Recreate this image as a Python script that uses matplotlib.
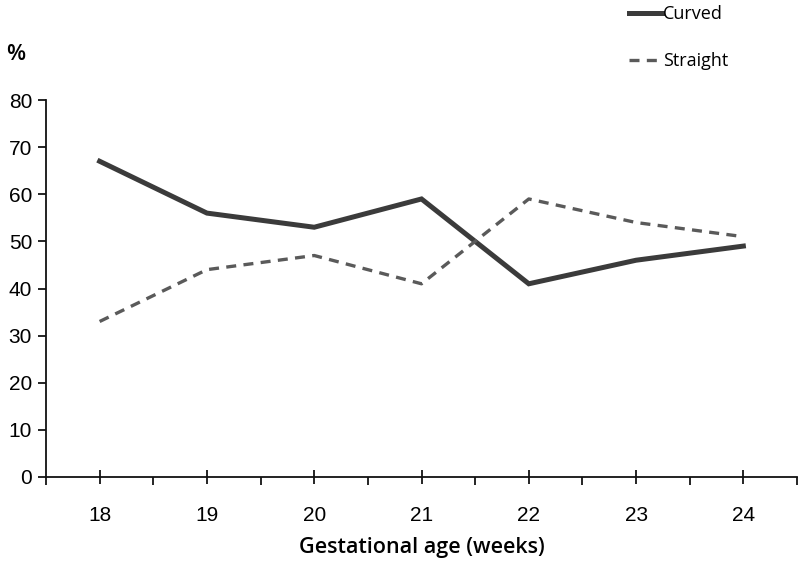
import matplotlib
matplotlib.use("Agg")
import matplotlib.pyplot as plt
from matplotlib.ticker import FixedLocator

weeks = ["18", "19", "20", "21", "22", "23", "24"]
curved = [67, 56, 53, 59, 41, 46, 49]
straight = [33, 44, 47, 41, 59, 54, 51]
y_ticks = [0, 10, 20, 30, 40, 50, 60, 70, 80]

fig = plt.figure(figsize=(8, 5.61), dpi=100)
ax = fig.add_axes([46 / 800, 1 - 477 / 561, 751 / 800, 377 / 561])

x = list(range(len(weeks)))
l1, = ax.plot(x, curved, color="#3b3b3b", lw=3.6, solid_joinstyle="miter")
l2, = ax.plot(x, straight, color="#5a5a5a", lw=2.4, dashes=(3.0, 2.2))

ax.set_xlim(-0.5, len(weeks) - 0.5)
ax.set_ylim(0, 80)

# category axis: long ticks between categories, crossing ticks at labels
ax.xaxis.set_major_locator(FixedLocator([i - 0.5 for i in range(len(weeks) + 1)]))
ax.set_xticklabels([])
ax.set_xticks(x, minor=True)
ax.set_xticklabels(weeks, minor=True, fontsize=15, family="Liberation Sans")
ax.tick_params(axis="x", which="major", direction="out", length=6, width=1.2)
ax.tick_params(axis="x", which="minor", direction="inout", length=10, width=1.2, pad=16)

ax.set_yticks(y_ticks)
ax.set_yticklabels([str(v) for v in y_ticks], fontsize=15, family="Liberation Sans")
ax.tick_params(axis="y", direction="out", length=6, width=1.2, pad=4)

for s in ["top", "right"]:
    ax.spines[s].set_visible(False)
for s in ["left", "bottom"]:
    ax.spines[s].set_linewidth(1.3)
    ax.spines[s].set_color("#111111")

fig.text(422 / 800, 1 - 548 / 561, "Gestational age (weeks)", fontsize=15.5,
         family="Open Sans", fontweight="semibold", ha="center", va="center")
fig.text(6 / 800, 1 - 55 / 561, "%", fontsize=16, family="Open Sans",
         fontweight="semibold", va="center")

leg = fig.legend([l1, l2], ["Curved", "Straight"], loc="upper left",
                 bbox_to_anchor=(613 / 800, 1.02), frameon=False,
                 prop={"family": "Open Sans", "size": 13}, handlelength=1.8,
                 handletextpad=0.05, labelspacing=1.6)

fig.savefig("out.png", dpi=100)
